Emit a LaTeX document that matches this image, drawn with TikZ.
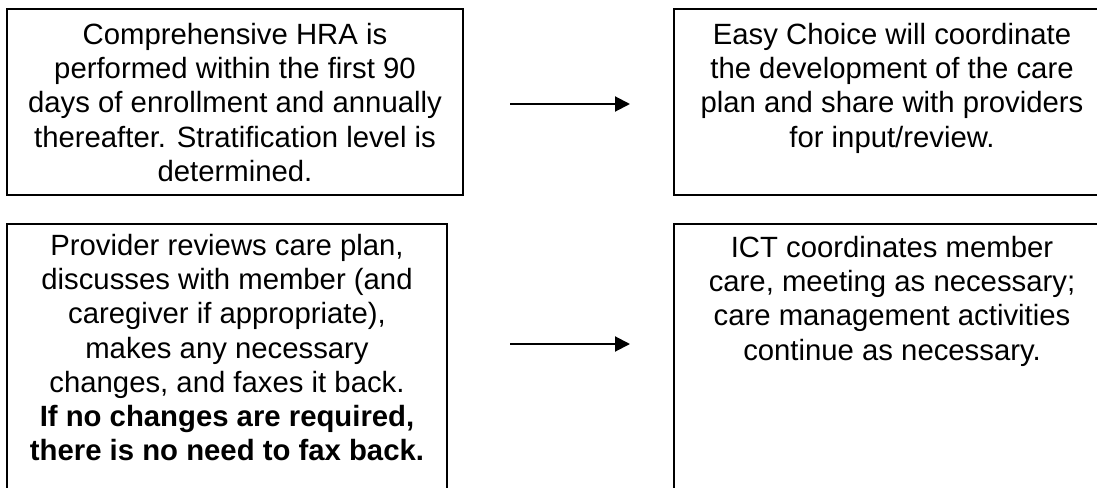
\documentclass[tikz,border=0pt]{standalone}
\usepackage{fontspec}
\setmainfont{Liberation Sans}
\usetikzlibrary{arrows.meta}

\begin{document}
\begin{tikzpicture}[x=1pt, y=-1pt,
  frame/.style={draw=black, line width=2pt, anchor=north west, inner sep=0pt, outer sep=0pt},
  txt/.style={anchor=north, align=center, inner sep=0pt,
              font=\fontsize{29.3pt}{34.2pt}\selectfont},
  flow/.style={line width=2pt, -{Triangle[length=15pt, width=15pt]}}]

\useasboundingbox[fill=white] (0,0) rectangle (1097,487);

% step boxes
\node[frame, minimum width=456pt, minimum height=186pt] (hraBox)  at (7,9)   {};
\node[frame, minimum width=436pt, minimum height=186pt] (planBox) at (674,9) {};
\node[frame, minimum width=440pt, minimum height=300pt] (revBox)  at (7,224) {};
\node[frame, minimum width=436pt, minimum height=300pt] (ictBox)  at (674,224) {};

% step texts
\node[txt] (hra) at (hraBox.north |- 0,23)
  {Comprehensive HRA is\\
   performed within the first 90\\
   days of enrollment and annually\\
   thereafter. Stratification level is\\
   determined.};
\node[txt] (plan) at (planBox.north |- 0,23)
  {Easy Choice will coordinate\\
   the development of the care\\
   plan and share with providers\\
   for input/review.};
\node[txt] (rev) at (revBox.north |- 0,234)
  {Provider reviews care plan,\\
   discusses with member (and\\
   caregiver if appropriate),\\
   makes any necessary\\
   changes, and faxes it back.\\
   \textbf{If no changes are required,}\\
   \textbf{there is no need to fax back.}};
\node[txt] (ict) at (ictBox.north |- 0,236)
  {ICT coordinates member\\
   care, meeting as necessary;\\
   care management activities\\
   continue as necessary.};

% arrows between the boxes
\coordinate (hraOut)  at (510,104);
\coordinate (planIn)  at (630,104);
\coordinate (revOut)  at (510,344);
\coordinate (ictIn)   at (630,344);
\draw[flow] (hraOut) -- (planIn);
\draw[flow] (revOut) -- (ictIn);

\end{tikzpicture}
\end{document}
